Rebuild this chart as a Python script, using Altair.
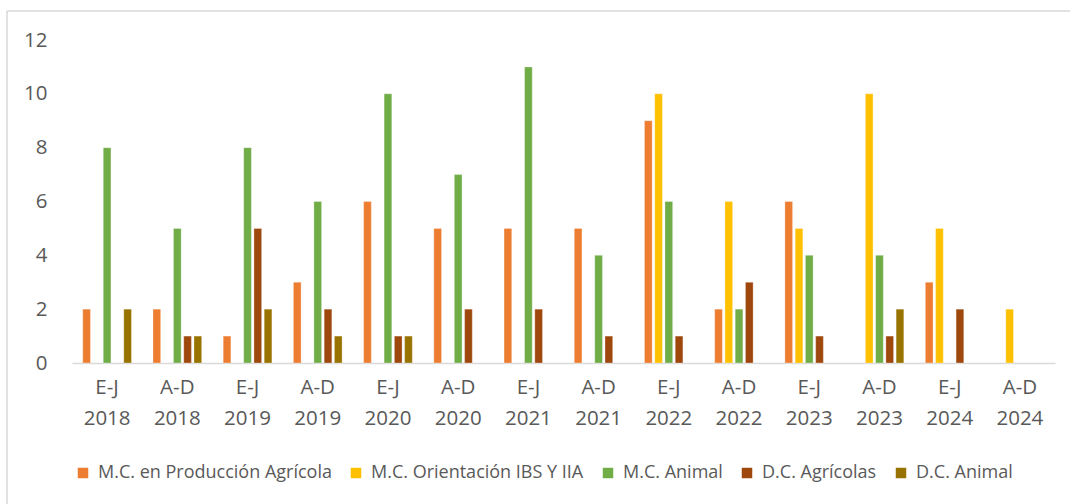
import altair as alt
import pandas as pd

periods = ["E-J\n2018", "A-D\n2018", "E-J\n2019", "A-D\n2019", "E-J\n2020", "A-D\n2020",
           "E-J\n2021", "A-D\n2021", "E-J\n2022", "A-D\n2022", "E-J\n2023", "A-D\n2023",
           "E-J\n2024", "A-D\n2024"]

series_names = ["M.C. en Producción Agrícola", "M.C. Orientación IBS Y IIA", "M.C. Animal",
                "D.C. Agrícolas", "D.C. Animal"]
series_colors = ["#ED7D31", "#FFC000", "#70AD47", "#9E480E", "#997300"]

mc_produccion_agricola = [2, 2, 1, 3, 6, 5, 5, 5, 9, 2, 6, 0, 3, 0]
mc_orientacion_ibs_iia = [0, 0, 0, 0, 0, 0, 0, 0, 10, 6, 5, 10, 5, 2]
mc_animal = [8, 5, 8, 6, 10, 7, 11, 4, 6, 2, 4, 4, 0, 0]
dc_agricolas = [0, 1, 5, 2, 1, 2, 2, 1, 1, 3, 1, 1, 2, 0]
dc_animal = [2, 1, 2, 1, 1, 0, 0, 0, 0, 0, 0, 2, 0, 0]

all_series = [mc_produccion_agricola, mc_orientacion_ibs_iia, mc_animal, dc_agricolas, dc_animal]

rows = []
for name, values in zip(series_names, all_series):
    for period, v in zip(periods, values):
        rows.append({"periodo": period, "serie": name, "valor": v})
df = pd.DataFrame(rows)
df = df[df["valor"] > 0]

W, H = 983, 323
FONT = "Open Sans"
GRAY_TEXT = "#595959"

bars = alt.Chart(df).mark_bar(stroke="white", strokeWidth=0.6, strokeOpacity=0.5).encode(
    x=alt.X("periodo:N", sort=periods, title=None,
            scale=alt.Scale(paddingInner=0.27, paddingOuter=0.135),
            axis=alt.Axis(labelAngle=0, labelExpr="split(datum.label, '\\n')",
                          labelFont=FONT, labelFontSize=20.5, labelColor=GRAY_TEXT,
                          labelLineHeight=31, labelPadding=14, ticks=False,
                          domainColor="#d9d9d9", domainWidth=1.5, grid=False)),
    xOffset=alt.XOffset("serie:N", sort=series_names,
                        scale=alt.Scale(domain=series_names, paddingInner=0.25, paddingOuter=0.125)),
    y=alt.Y("valor:Q", title=None,
            scale=alt.Scale(domain=[0, 12], nice=False),
            axis=alt.Axis(values=[0, 2, 4, 6, 8, 10, 12], grid=False, domain=False, ticks=False,
                          labelFont=FONT, labelFontSize=20.5, labelColor=GRAY_TEXT,
                          labelPadding=25)),
    color=alt.Color("serie:N", sort=series_names,
                    scale=alt.Scale(domain=series_names, range=series_colors),
                    legend=alt.Legend(title=None, orient="none", direction="horizontal",
                                      legendX=2, legendY=424,
                                      symbolType="square", symbolSize=110,
                                      symbolStrokeWidth=0,
                                      labelFont=FONT, labelFontSize=18, labelColor=GRAY_TEXT,
                                      labelOffset=6, columnPadding=15,
                                      labelLimit=400)),
)

# light frame around the chart area (top and left edges)
frame_top = alt.Chart(pd.DataFrame({"k": [0]})).mark_rule(color="#d9d9d9", strokeWidth=1.5).encode(
    x=alt.value(-65), x2=alt.value(1100), y=alt.value(-29))
frame_left = alt.Chart(pd.DataFrame({"k": [0]})).mark_rule(color="#d9d9d9", strokeWidth=1.5).encode(
    x=alt.value(-65), y=alt.value(-29), y2=alt.value(500))

chart = alt.layer(bars, frame_top, frame_left).properties(
    width=W, height=H,
    autosize=alt.AutoSizeParams(type="none"),
    padding={"left": 72, "top": 40, "right": 15, "bottom": 141},
    background="white",
).configure_view(stroke=None)

chart.save("out.html", embed_options={"renderer": "svg", "actions": False})
